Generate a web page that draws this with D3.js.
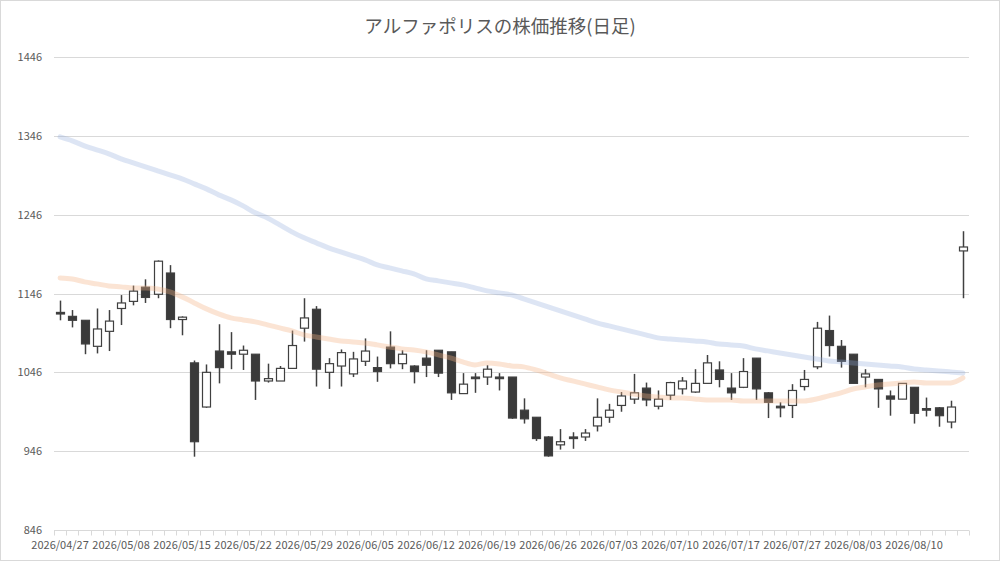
<!DOCTYPE html>
<html>
<head>
<meta charset="utf-8">
<script src="https://cdn.jsdelivr.net/npm/d3@7"></script>
<style>
  body { margin: 0; background: #fff; }
  svg { display: block; font-family: "Noto Sans CJK JP", "Noto Sans", sans-serif; }
</style>
</head>
<body>
<svg id="main_chart" width="1000" height="561"></svg>
<script>
(function() {
  // trading days (category axis)
  const dates = [
    '2026/04/27', '2026/04/28', '2026/04/30', '2026/05/01', '2026/05/07',
    '2026/05/08', '2026/05/11', '2026/05/12', '2026/05/13', '2026/05/14',
    '2026/05/15', '2026/05/18', '2026/05/19', '2026/05/20', '2026/05/21',
    '2026/05/22', '2026/05/25', '2026/05/26', '2026/05/27', '2026/05/28',
    '2026/05/29', '2026/06/01', '2026/06/02', '2026/06/03', '2026/06/04',
    '2026/06/05', '2026/06/08', '2026/06/09', '2026/06/10', '2026/06/11',
    '2026/06/12', '2026/06/15', '2026/06/16', '2026/06/17', '2026/06/18',
    '2026/06/19', '2026/06/22', '2026/06/23', '2026/06/24', '2026/06/25',
    '2026/06/26', '2026/06/29', '2026/06/30', '2026/07/01', '2026/07/02',
    '2026/07/03', '2026/07/06', '2026/07/07', '2026/07/08', '2026/07/09',
    '2026/07/10', '2026/07/13', '2026/07/14', '2026/07/15', '2026/07/16',
    '2026/07/17', '2026/07/21', '2026/07/22', '2026/07/23', '2026/07/24',
    '2026/07/27', '2026/07/28', '2026/07/29', '2026/07/30', '2026/07/31',
    '2026/08/03', '2026/08/04', '2026/08/05', '2026/08/06', '2026/08/07',
    '2026/08/10', '2026/08/12', '2026/08/13', '2026/08/14', '2026/08/17'
  ];
  const openPrices = [
    1122, 1117, 1112, 1079, 1098, 1127, 1136, 1154, 1145, 1172,
    1113, 1058, 1002, 1073, 1072, 1069, 1069, 1035, 1035, 1051,
    1102, 1126, 1046, 1054, 1044, 1060, 1052, 1078, 1057, 1054,
    1064, 1074, 1072, 1019, 1040, 1040, 1040, 1040, 998, 989,
    964, 954, 964, 964, 978, 989, 1004, 1012, 1026, 1003,
    1017, 1025, 1021, 1032, 1049, 1026, 1027, 1064, 1020, 1003,
    1004, 1028, 1053, 1099, 1079, 1069, 1040, 1037, 1016, 1012,
    1027, 1000, 1001, 983, 1200
  ];
  const highPrices = [
    1137, 1125, 1112, 1127, 1125, 1144, 1156, 1164, 1188, 1182,
    1117, 1061, 1056, 1107, 1097, 1080, 1069, 1057, 1054, 1099,
    1140, 1130, 1064, 1075, 1072, 1089, 1066, 1098, 1074, 1055,
    1074, 1074, 1072, 1045, 1045, 1055, 1045, 1040, 1013, 989,
    965, 974, 970, 974, 1013, 1006, 1021, 1044, 1033, 1023,
    1034, 1040, 1050, 1068, 1060, 1045, 1064, 1064, 1021, 1008,
    1031, 1049, 1110, 1118, 1087, 1069, 1050, 1037, 1023, 1032,
    1027, 1014, 1002, 1010, 1225
  ];
  const lowPrices = [
    1112, 1103, 1069, 1070, 1073, 1106, 1131, 1134, 1140, 1102,
    1093, 939, 1001, 1032, 1050, 1049, 1011, 1033, 1035, 1051,
    1085, 1028, 1025, 1028, 1040, 1054, 1034, 1051, 1050, 1032,
    1040, 1040, 1011, 1019, 1020, 1030, 1023, 987, 981, 959,
    939, 948, 949, 959, 971, 982, 996, 1006, 1003, 999,
    1011, 1018, 1020, 1032, 1027, 1011, 1026, 1011, 988, 989,
    988, 1023, 1050, 1066, 1052, 1032, 1027, 1001, 991, 1012,
    981, 990, 977, 975, 1140
  ];
  const closePrices = [
    1120, 1112, 1082, 1101, 1111, 1134, 1149, 1141, 1187, 1113,
    1116, 958, 1046, 1052, 1069, 1074, 1035, 1038, 1051, 1080,
    1115, 1050, 1057, 1071, 1063, 1073, 1047, 1057, 1069, 1047,
    1055, 1045, 1020, 1031, 1038, 1050, 1038, 988, 987, 962,
    940, 958, 962, 969, 989, 998, 1016, 1020, 1011, 1012,
    1033, 1035, 1032, 1058, 1037, 1020, 1047, 1025, 1008, 1001,
    1023, 1037, 1102, 1080, 1060, 1032, 1044, 1025, 1012, 1032,
    994, 998, 991, 1002, 1205
  ];
  // short moving average (orange)
  const maShort = [
    1165.8, 1164.5, 1160.7, 1158.2, 1155.6, 1154.4, 1153.1, 1153.1, 1151.8, 1148.0,
    1141.7, 1134.1, 1126.5, 1120.1, 1115.0, 1112.5, 1110.0, 1106.2, 1102.3, 1098.5,
    1093.5, 1090.9, 1088.4, 1085.8, 1084.6, 1083.3, 1080.8, 1078.2, 1075.7, 1074.4,
    1071.9, 1068.1, 1064.3, 1059.2, 1055.4, 1057.9, 1056.7, 1054.1, 1052.9, 1049.0,
    1044.0, 1038.9, 1035.1, 1031.3, 1027.5, 1023.7, 1021.1, 1018.6, 1016.1, 1014.8,
    1013.5, 1013.5, 1012.2, 1011.0, 1011.0, 1011.0, 1009.7, 1009.7, 1009.7, 1009.7,
    1009.7, 1009.7, 1012.2, 1016.1, 1019.9, 1024.9, 1027.5, 1030.0, 1031.3, 1032.5,
    1033.8, 1032.5, 1032.5, 1032.5, 1038.9
  ];
  // long moving average (blue)
  const maLong = [
    1344.7, 1339.7, 1333.3, 1328.2, 1323.2, 1316.8, 1311.7, 1306.7, 1301.6, 1296.5,
    1291.4, 1285.1, 1278.7, 1271.1, 1264.8, 1257.2, 1248.3, 1241.9, 1233.1, 1224.2,
    1216.6, 1210.2, 1203.9, 1198.8, 1193.7, 1188.6, 1182.3, 1178.5, 1174.7, 1170.9,
    1164.5, 1162.0, 1159.5, 1156.9, 1153.1, 1149.3, 1146.8, 1144.2, 1139.1, 1134.1,
    1129.0, 1123.9, 1118.8, 1113.8, 1108.7, 1104.9, 1101.1, 1097.3, 1093.5, 1089.7,
    1088.4, 1087.1, 1085.8, 1084.6, 1082.0, 1080.8, 1079.5, 1075.7, 1073.2, 1070.6,
    1068.1, 1065.5, 1063.0, 1060.5, 1059.2, 1057.9, 1056.7, 1055.4, 1054.1, 1052.9,
    1050.3, 1049.0, 1047.8, 1046.5, 1045.2
  ];
  const yTicks = [846, 946, 1046, 1146, 1246, 1346, 1446];
  const chartTitle = 'アルファポリスの株価推移(日足)';

  const svg = d3.select('#main_chart');
  const textColor = '#595959';
  const gridColor = '#d9d9d9';
  const candleColor = '#404040';

  svg.append('rect').attr('x', 0.5).attr('y', 0.5).attr('width', 999).attr('height', 560)
    .attr('fill', '#fff').attr('stroke', gridColor);

  const xScale = d3.scaleBand().domain(dates).range([54, 969]).padding(0);
  const yScale = d3.scaleLinear().domain([846, 1446]).range([530, 57]);
  const bw = xScale.bandwidth();
  const cx = function(d) { return xScale(d) + bw / 2; };

  svg.append('text').attr('x', 500).attr('y', 33).attr('text-anchor', 'middle')
    .attr('font-size', 18.5).attr('fill', textColor).text(chartTitle);

  // horizontal gridlines + y labels
  svg.append('g').selectAll('line').data(yTicks.slice(1)).enter().append('line')
    .attr('x1', 54).attr('x2', 969)
    .attr('y1', function(d) { return Math.round(yScale(d)) + 0.5; })
    .attr('y2', function(d) { return Math.round(yScale(d)) + 0.5; })
    .attr('stroke', gridColor).attr('stroke-width', 1);
  svg.append('g').selectAll('text').data(yTicks).enter().append('text')
    .attr('x', 42).attr('y', function(d) { return yScale(d) + 4; })
    .attr('text-anchor', 'end').attr('font-size', 11).attr('fill', textColor)
    .text(function(d) { return d; });

  // category axis
  const axisY = Math.round(yScale(846)) + 0.5;
  svg.append('line').attr('x1', 54).attr('x2', 969).attr('y1', axisY).attr('y2', axisY)
    .attr('stroke', gridColor);
  const tickXs = dates.map(function(d) { return xScale(d); }).concat([xScale.range()[1]]);
  svg.append('g').selectAll('line').data(tickXs).enter().append('line')
    .attr('x1', function(d) { return Math.round(d) + 0.5; })
    .attr('x2', function(d) { return Math.round(d) + 0.5; })
    .attr('y1', axisY).attr('y2', axisY + 5).attr('stroke', gridColor);
  svg.append('g').selectAll('text').data(dates.filter(function(d, i) { return i % 5 === 0; }))
    .enter().append('text')
    .attr('x', function(d) { return cx(d); }).attr('y', 549)
    .attr('text-anchor', 'middle').attr('font-size', 11).attr('fill', textColor)
    .text(function(d) { return d; });

  // candles
  const idx = d3.range(dates.length);
  const candles = svg.append('g');
  candles.selectAll('line').data(idx).enter().append('line')
    .attr('x1', function(i) { return Math.round(cx(dates[i])) + 0.5; })
    .attr('x2', function(i) { return Math.round(cx(dates[i])) + 0.5; })
    .attr('y1', function(i) { return yScale(highPrices[i]); })
    .attr('y2', function(i) { return yScale(lowPrices[i]); })
    .attr('stroke', candleColor).attr('stroke-width', 1.5);
  const bodyW = 8;
  candles.selectAll('rect').data(idx).enter().append('rect')
    .attr('x', function(i) { return Math.round(cx(dates[i]) - bodyW / 2) + 0.5; })
    .attr('width', bodyW)
    .attr('y', function(i) { return yScale(Math.max(openPrices[i], closePrices[i])); })
    .attr('height', function(i) {
      return Math.max(1, Math.abs(yScale(openPrices[i]) - yScale(closePrices[i])));
    })
    .attr('fill', function(i) { return closePrices[i] < openPrices[i] ? '#3a3a3a' : '#ffffff'; })
    .attr('stroke', candleColor).attr('stroke-width', 1.2);

  // moving averages on top
  const line = d3.line()
    .x(function(d, i) { return cx(dates[i]); })
    .y(function(d) { return yScale(d); })
    .curve(d3.curveMonotoneX);
  svg.append('path').datum(maShort).attr('d', line).attr('fill', 'none')
    .attr('stroke', '#f4b183').attr('stroke-width', 5).attr('stroke-opacity', 0.35)
    .attr('stroke-linecap', 'round');
  svg.append('path').datum(maLong).attr('d', line).attr('fill', 'none')
    .attr('stroke', '#8faadc').attr('stroke-width', 5).attr('stroke-opacity', 0.3)
    .attr('stroke-linecap', 'round');
}());
</script>
</body>
</html>
